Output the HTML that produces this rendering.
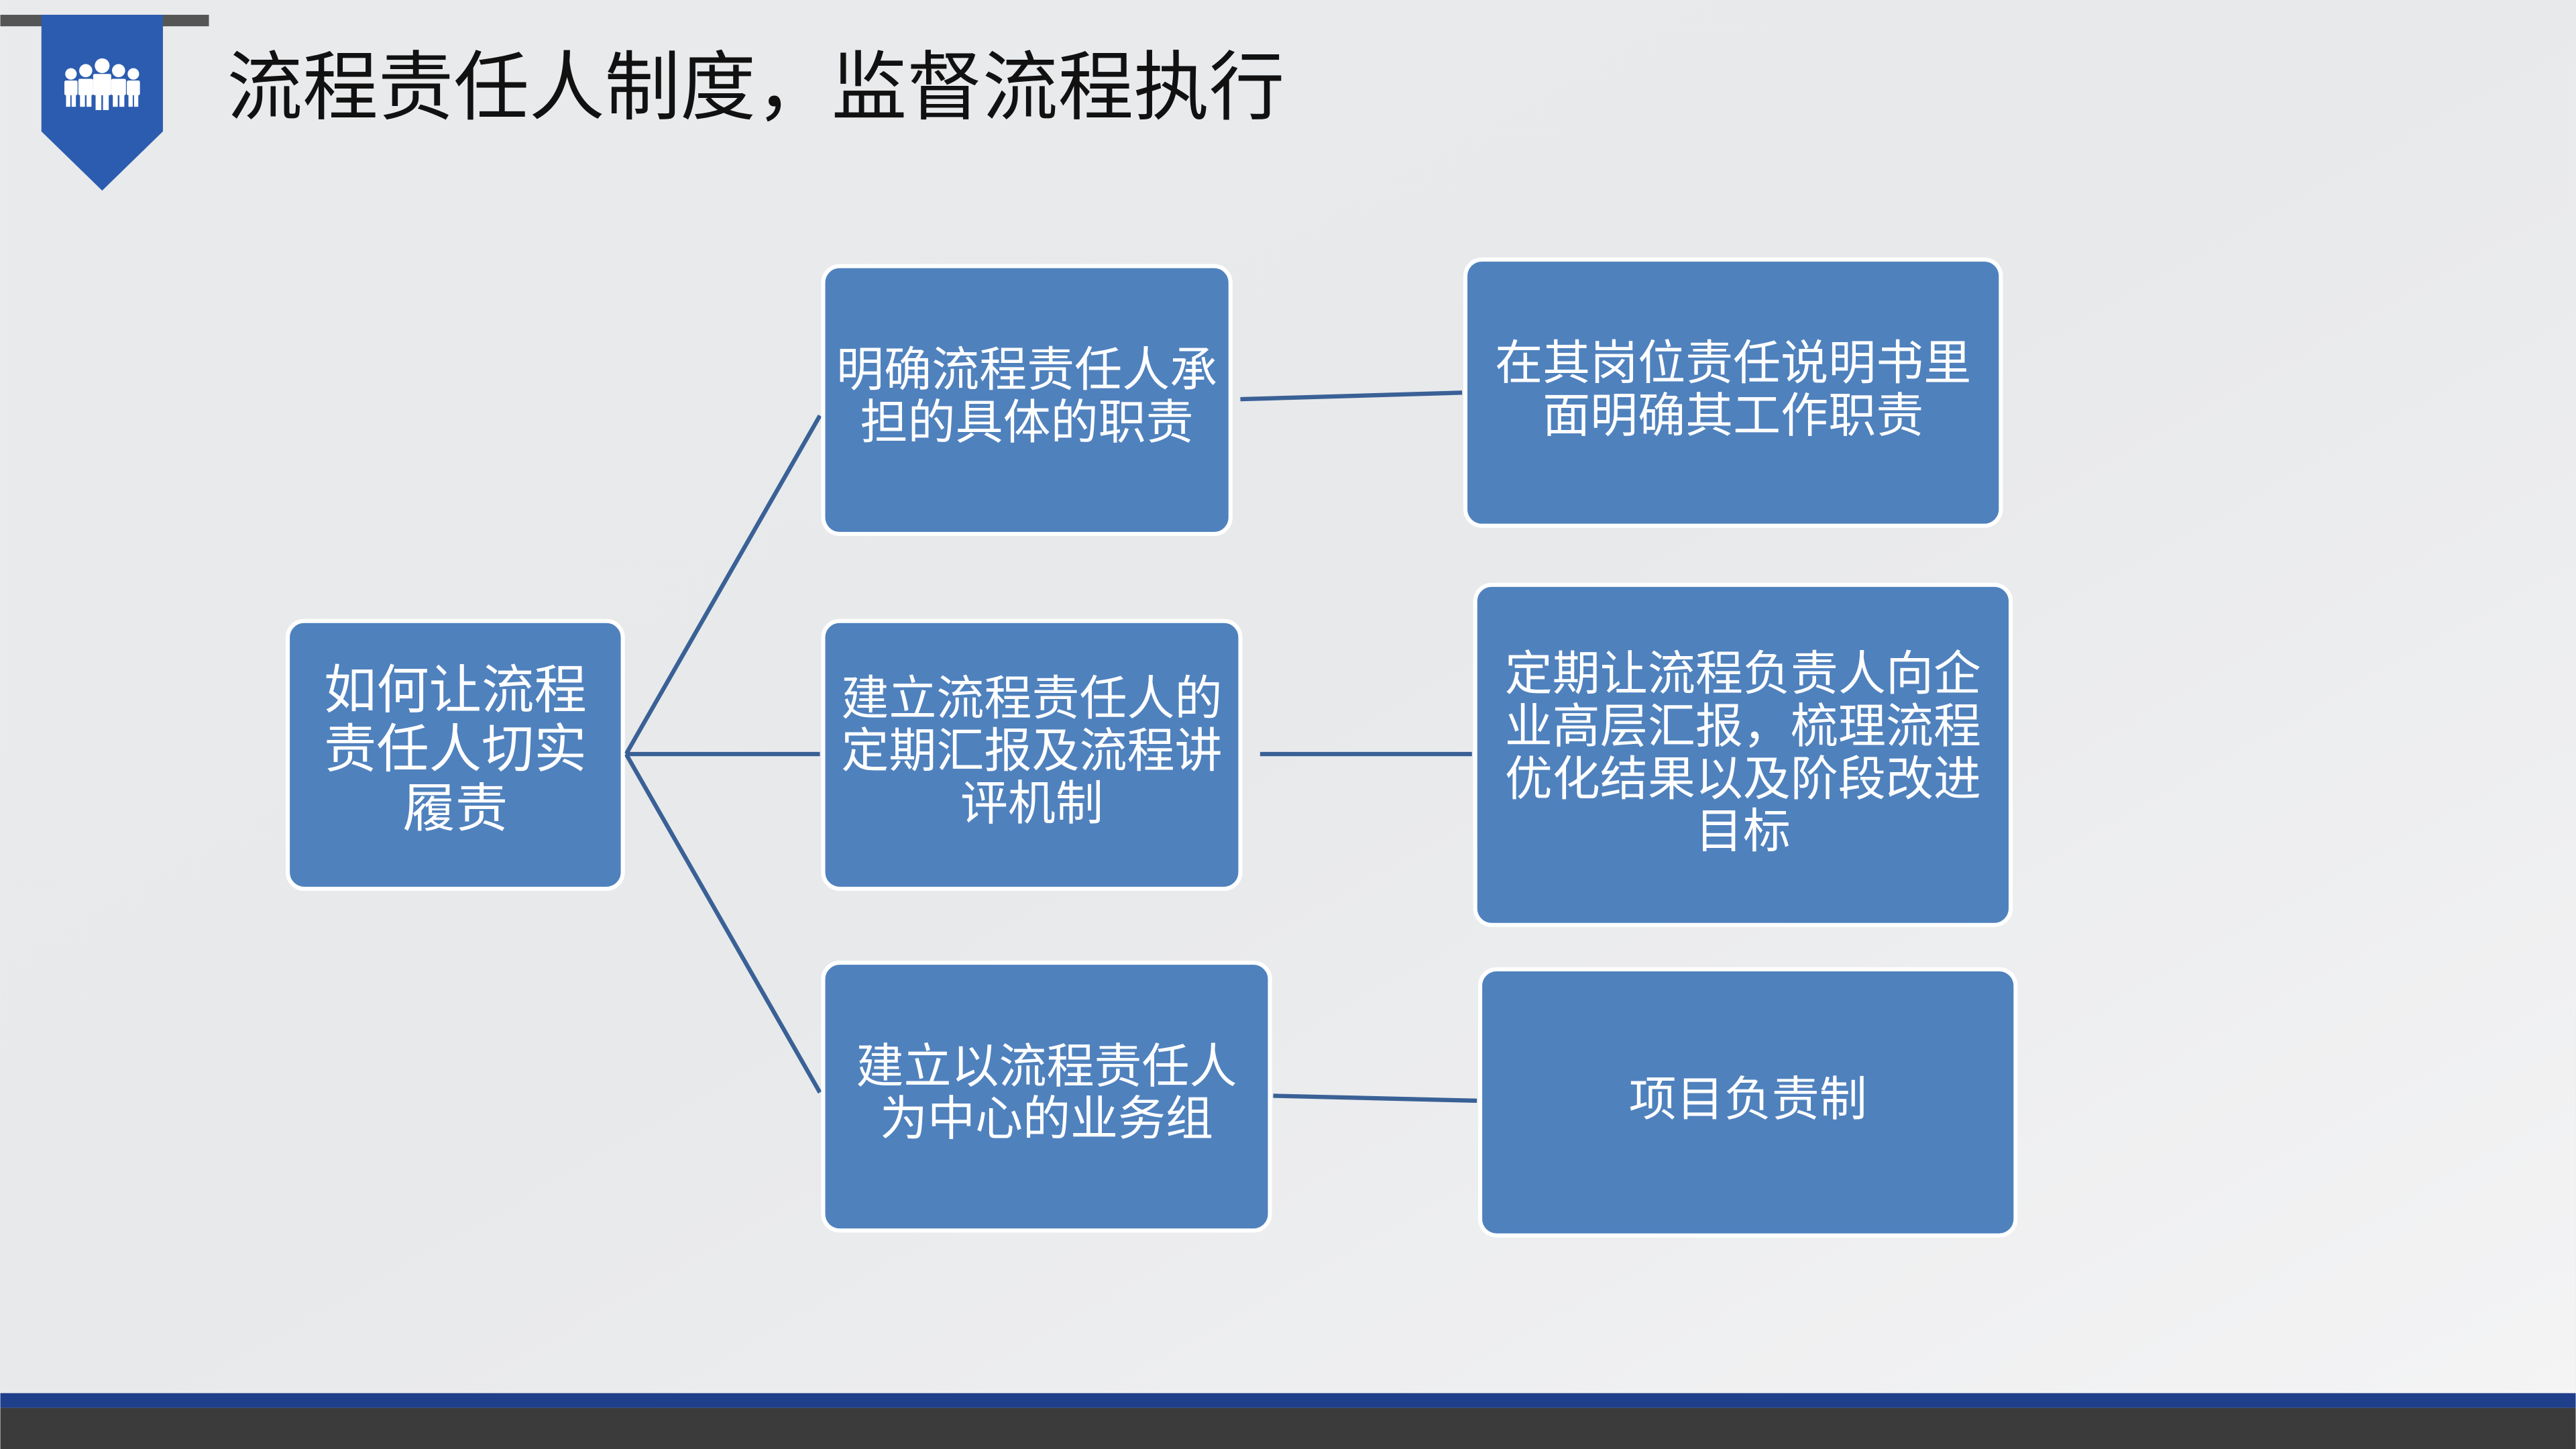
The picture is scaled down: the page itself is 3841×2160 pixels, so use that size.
<!DOCTYPE html>
<html><head><meta charset="utf-8"><style>
html,body{margin:0;padding:0;width:3841px;height:2160px;overflow:hidden;background:#ececed}
svg{display:block}
text{font-family:"Liberation Sans","Noto Sans CJK SC",sans-serif;}
</style></head><body>
<svg width="3841" height="2160" viewBox="0 0 1568 882" xmlns="http://www.w3.org/2000/svg">
<defs>
<linearGradient id="bg" x1="0" y1="0" x2="1" y2="1">
<stop offset="0" stop-color="#e9eaec"/><stop offset="0.5" stop-color="#e8e9eb"/><stop offset="1" stop-color="#f4f4f5"/>
</linearGradient>
</defs>
<rect width="1568" height="882" fill="url(#bg)"/>
<rect x="0" y="9" width="127" height="7" fill="#555"/>
<polygon points="25,9 99,9 99,80 62,116 25,80" fill="#2b5caf"/>
<g fill="#fff">
<circle cx="62" cy="40" r="4.5"/><rect x="56.5" y="45" width="11" height="13" rx="1"/><rect x="58" y="56" width="3.5" height="11"/><rect x="62.5" y="56" width="3.5" height="11"/>
<circle cx="52" cy="43" r="4"/><rect x="47.5" y="48" width="9" height="10" rx="1"/><rect x="48.5" y="56" width="3" height="9"/><rect x="52.5" y="56" width="3" height="9"/>
<circle cx="72" cy="43" r="4"/><rect x="67.5" y="48" width="9" height="10" rx="1"/><rect x="68.5" y="56" width="3" height="9"/><rect x="72.5" y="56" width="3" height="9"/>
<circle cx="43" cy="45" r="3.5"/><rect x="39" y="49" width="8" height="9" rx="1"/><rect x="40" y="56" width="2.6" height="9"/><rect x="43.4" y="56" width="2.6" height="9"/>
<circle cx="81" cy="45" r="3.5"/><rect x="77" y="49" width="8" height="9" rx="1"/><rect x="78" y="56" width="2.6" height="9"/><rect x="81.4" y="56" width="2.6" height="9"/>
</g>
<text x="138" y="69" font-size="46" fill="#111">流程责任人制度，监督流程执行</text>

<g stroke="#3a6196" stroke-width="2.6" fill="none">
<line x1="381" y1="459" x2="499" y2="253"/>
<line x1="381" y1="459" x2="499" y2="459"/>
<line x1="381" y1="459" x2="499" y2="665"/>
<line x1="755" y1="243" x2="890" y2="239"/>
<line x1="767" y1="459" x2="896" y2="459"/>
<line x1="775" y1="667" x2="899" y2="670"/>
</g>

<g fill="#4f81bd" stroke="#fff" stroke-width="2.5">
<rect x="175" y="378" width="204" height="163" rx="10"/>
<rect x="501" y="162" width="248" height="163" rx="10"/>
<rect x="501" y="378" width="254" height="163" rx="10"/>
<rect x="501" y="586" width="272" height="163" rx="10"/>
<rect x="892" y="158" width="326" height="162" rx="10"/>
<rect x="898" y="356" width="326" height="207" rx="10"/>
<rect x="901" y="590" width="326" height="162" rx="10"/>
</g>

<g fill="#fff" text-anchor="middle" font-size="29">
<text x="277" y="431" font-size="32">如何让流程</text>
<text x="277" y="467" font-size="32">责任人切实</text>
<text x="277" y="503" font-size="32">履责</text>
<text x="625" y="235">明确流程责任人承</text>
<text x="625" y="267">担的具体的职责</text>
<text x="628" y="435">建立流程责任人的</text>
<text x="628" y="467">定期汇报及流程讲</text>
<text x="628" y="499">评机制</text>
<text x="637" y="659">建立以流程责任人</text>
<text x="637" y="691">为中心的业务组</text>
<text x="1055" y="231">在其岗位责任说明书里</text>
<text x="1055" y="263">面明确其工作职责</text>
<text x="1061" y="420">定期让流程负责人向企</text>
<text x="1061" y="452">业高层汇报，梳理流程</text>
<text x="1061" y="484">优化结果以及阶段改进</text>
<text x="1061" y="516">目标</text>
<text x="1064" y="679">项目负责制</text>
</g>

<rect x="0" y="848" width="1568" height="9" fill="#1f3f8a"/>
<rect x="0" y="857" width="1568" height="25" fill="#3b3b3b"/>
</svg>
</body></html>
